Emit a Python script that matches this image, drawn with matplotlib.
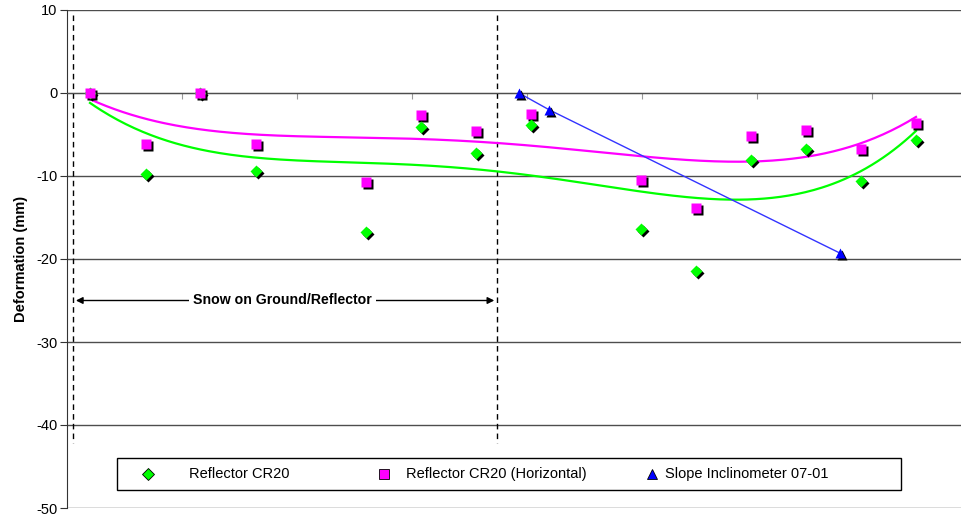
import matplotlib
matplotlib.use('Agg')
import matplotlib.pyplot as plt
import numpy as np
from matplotlib.transforms import offset_copy
from matplotlib.patches import Rectangle

plt.rcParams['font.family'] = ['Liberation Sans', 'DejaVu Sans']
plt.rcParams['axes.unicode_minus'] = False

# survey days (x), roughly every two weeks
days = [6, 20.6, 34.7, 49.3, 78, 92.3, 106.7, 121, 149.7, 164, 178.4, 192.8, 207.1, 221.5]
cr20 = [0, -9.7, 0, -9.4, -16.8, -4.1, -7.2, -3.9, -16.4, -21.5, -8.1, -6.7, -10.6, -5.7]
cr20_horiz = [0, -6.2, 0, -6.1, -10.7, -2.6, -4.6, -2.5, -10.5, -13.8, -5.2, -4.4, -6.8, -3.6]

incl_days = [117.9, 125.7, 201.7]
incl = [0, -2.0, -19.3]

snow_start, snow_end = 1.6, 112.2

fig = plt.figure(figsize=(9.62, 5.16), dpi=100)
ax = fig.add_axes([67 / 962, 8 / 516, 895 / 962, 498 / 516])

ax.set_xlim(0, 233.5)
ax.set_ylim(-50, 10)
ax.set_yticks(range(-50, 11, 10))
ax.set_xticks(range(30, 211, 30))
ax.set_xticklabels([])
ax.yaxis.grid(True, color='#4d4d4d', lw=1)
ax.set_axisbelow(True)

for s in ['top', 'right']:
    ax.spines[s].set_visible(False)
ax.spines['bottom'].set_position(('data', 0))
ax.spines['bottom'].set_color('#4d4d4d')
ax.spines['left'].set_color('#333333')
ax.tick_params(axis='x', direction='out', length=4, color='#999999')
ax.tick_params(axis='y', direction='out', length=5, color='#333333', labelsize=10.5, pad=2)
ax.set_ylabel('Deformation (mm)', fontsize=10.5, fontweight='bold', labelpad=6)

# polynomial trendlines (as in the spreadsheet)
xs = np.linspace(days[0], days[-1], 300)
for vals, col in [(cr20, '#00ff00'), (cr20_horiz, '#ff00ff')]:
    p = np.polyfit(days, vals, 4)
    ax.plot(xs, np.polyval(p, xs), color=col, lw=1.6, zorder=3)

ax.plot(incl_days, incl, color='#3333ff', lw=1, zorder=3)

# markers with drop shadow
shadow = offset_copy(ax.transData, fig=fig, x=2, y=-2, units='dots')
ax.plot(days, cr20, 'D', ms=6, color='black', mec='none', transform=shadow, zorder=4)
ax.plot(days, cr20, 'D', ms=6, color='#00ff00', mec='none', zorder=5)
ax.plot(days, cr20_horiz, 's', ms=6.5, color='black', mec='none', transform=shadow, zorder=4)
ax.plot(days, cr20_horiz, 's', ms=6.5, color='#ff00ff', mec='none', zorder=5)
ax.plot(incl_days, incl, '^', ms=7.5, color='black', mec='none', transform=shadow, zorder=4)
ax.plot(incl_days, incl, '^', ms=7.5, color='#0000ff', mec='none', zorder=5)

# snow period
for xv in [snow_start, snow_end]:
    ax.plot([xv, xv], [9.4, -42.2], color='black', lw=1, ls=(0, (4, 3)), zorder=2)
ax.annotate('', xy=(snow_start, -25), xytext=(snow_end, -25),
            arrowprops=dict(arrowstyle='<|-|>', color='black', lw=1, mutation_scale=10))
ax.text((snow_start + snow_end) / 2 - 0.8, -25, 'Snow on Ground/Reflector', fontsize=10.2,
        fontweight='bold', ha='center', va='center',
        bbox=dict(facecolor='white', edgecolor='none', pad=3), zorder=6)

# legend box
ax.add_patch(Rectangle((0.0559, 0.0361), 0.876, 0.0643, transform=ax.transAxes,
                       facecolor='white', edgecolor='black', lw=1, zorder=6))
entries = [('D', 6, '#00ff00', 0.0905, 0.1363, 'Reflector CR20'),
           ('s', 7, '#ff00ff', 0.3542, 0.3788, 'Reflector CR20 (Horizontal)'),
           ('^', 7, '#0000ff', 0.6536, 0.6682, 'Slope Inclinometer 07-01')]
for m, ms, col, mx, tx, label in entries:
    ax.plot([mx], [0.0683], m, ms=ms, color=col, mec='black', mew=0.6,
            transform=ax.transAxes, clip_on=False, zorder=7)
    ax.text(tx, 0.0683, label, fontsize=10.5, va='center', ha='left',
            transform=ax.transAxes, zorder=7)

fig.savefig('out.png', dpi=100)
